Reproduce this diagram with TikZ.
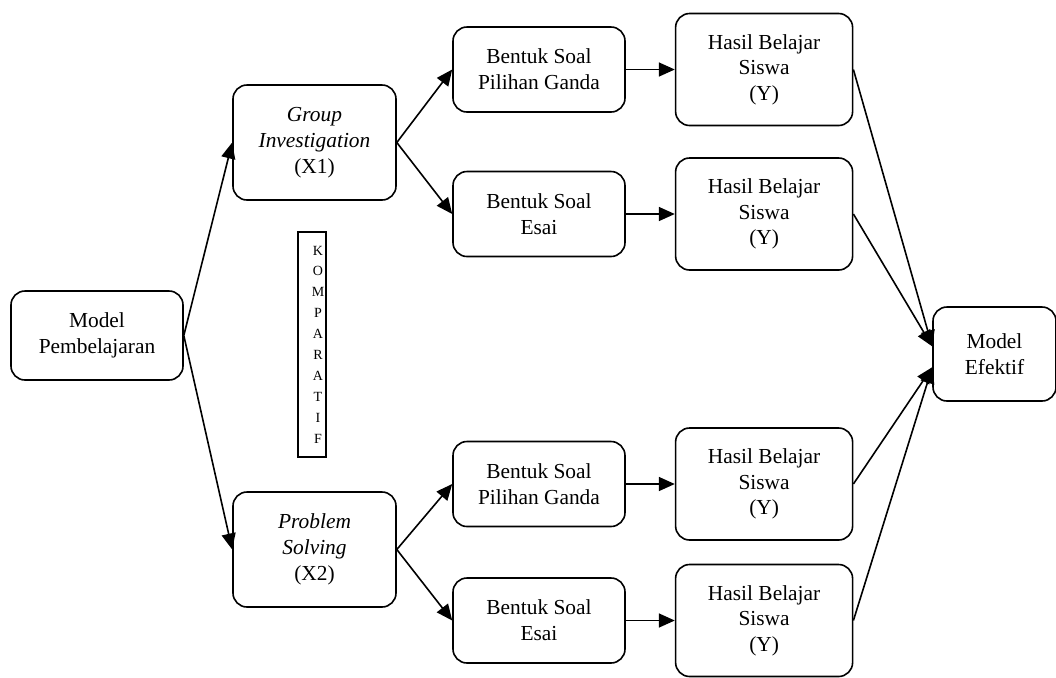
\documentclass[tikz,border=0pt]{standalone}
\usepackage{fontspec}
\setmainfont{Liberation Serif}
\usepackage{tikz}
\usetikzlibrary{positioning,arrows.meta}

\begin{document}
\begin{tikzpicture}[
  x=0.5pt, y=-0.5pt,
  box/.style={draw, rounded corners=7pt, line width=0.8pt, inner sep=0pt, align=center, font=\fontsize{10.7}{13}\selectfont},
  soal/.style={box, minimum width=86pt, minimum height=42.5pt},
  hasil/.style={box, minimum width=88.5pt, minimum height=56pt, font=\fontsize{10.7}{12.8}\selectfont},
  model/.style={box, minimum width=81.5pt, minimum height=57.5pt},
  lbl/.style={font=\fontsize{7}{10.45}\selectfont, align=center},
  arr/.style={-{Triangle[length=8pt,width=7pt]}, line width=0.8pt},
  node distance=6mm and 24.5pt
]
\useasboundingbox (0,0) rectangle (1056,677);

\node[box, minimum width=86pt, minimum height=44.5pt] (mp) at (97,335.5) {Model\\Pembelajaran};
\node[model] (gi) at (314.5,142.5) {\textit{Group}\\\textit{Investigation}\\(X1)};
\node[model] (ps) at (314.5,549.5) {\textit{Problem}\\\textit{Solving}\\(X2)};
\node[draw, line width=0.8pt, minimum width=14pt, minimum height=112.5pt,
  label={[lbl, xshift=3pt]center:K\\O\\M\\P\\A\\R\\A\\T\\I\\F}] (komp) at (312,344.5) {};

% bentuk soal
\node[soal] (pg1) at (539,69.5) {Bentuk Soal\\Pilihan Ganda};
\node[soal] (es1) at (539,214) {Bentuk Soal\\Esai};
\node[soal] (pg2) at (539,484) {Bentuk Soal\\Pilihan Ganda};
\node[soal] (es2) at (539,620.5) {Bentuk Soal\\Esai};

% hasil belajar
\node[hasil, right=of pg1] (hb1) {Hasil Belajar\\Siswa\\(Y)};
\node[hasil, right=of es1] (hb2) {Hasil Belajar\\Siswa\\(Y)};
\node[hasil, right=of pg2] (hb3) {Hasil Belajar\\Siswa\\(Y)};
\node[hasil, right=of es2] (hb4) {Hasil Belajar\\Siswa\\(Y)};

\node[box, minimum width=61.5pt, minimum height=47pt] (me) at (994.5,354) {Model\\Efektif};

\draw[arr] (mp.east) -- (gi.west);
\draw[arr] (mp.east) -- (ps.west);
\draw[arr] (gi.east) -- (pg1.west);
\draw[arr] (gi.east) -- (es1.west);
\draw[arr] (ps.east) -- (pg2.west);
\draw[arr] (ps.east) -- (es2.west);
\draw[arr] (pg1) -- (hb1);
\draw[arr] (es1) -- (hb2);
\draw[arr] (pg2) -- (hb3);
\draw[arr] (es2) -- (hb4);
\draw[arr] (hb1.east) -- (me.173);
\draw[arr] (hb2.east) -- (me.173);
\draw[arr] (hb3.east) -- (me.192);
\draw[arr] (hb4.east) -- (me.192);
\end{tikzpicture}
\end{document}
